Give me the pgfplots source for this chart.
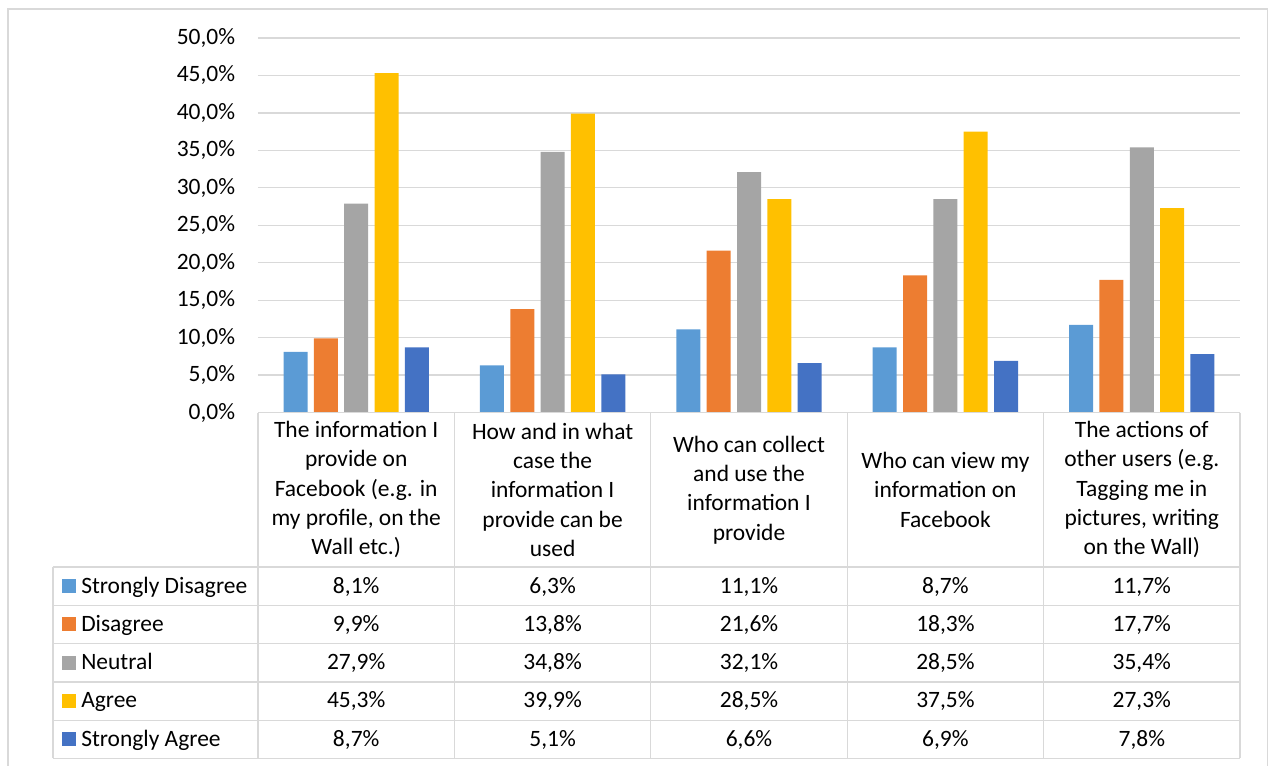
\documentclass[border=0pt]{standalone}
\usepackage{fontspec}
\setmainfont{Carlito}
\usepackage{pgfplots}
\usepackage{pgfplotstable}
\pgfplotsset{compat=1.18}
\pgfkeys{/pgf/number format/assume math mode=true}

\definecolor{sdis}{HTML}{5B9BD5}
\definecolor{dis}{HTML}{ED7D31}
\definecolor{neu}{HTML}{A5A5A5}
\definecolor{agr}{HTML}{FFC000}
\definecolor{sagr}{HTML}{4472C4}
\definecolor{rule}{HTML}{D9D9D9}

% Share of answers per statement (in %)
\pgfplotstableread{
cat sdis dis neu agr sagr
0 8.1 9.9 27.9 45.3 8.7
1 6.3 13.8 34.8 39.9 5.1
2 11.1 21.6 32.1 28.5 6.6
3 8.7 18.3 28.5 37.5 6.9
4 11.7 17.7 35.4 27.3 7.8
}\datatable

\begin{document}
\begin{tikzpicture}[font=\fontsize{17.6}{22}\selectfont]
% frame of the whole chart, in pixel-like units (origin top left)
\begin{scope}[x=0.75pt, y=-0.75pt, shift={(-193.5pt,309.375pt)}]
  \path[use as bounding box] (0,0) rectangle (1269,765);
  \draw[rule, line width=0.9pt] (8,770) -- (8,9) -- (1267.5,9) -- (1267.5,770);
\end{scope}

\begin{axis}[
  at={(0,0)}, anchor=south west,
  scale only axis,
  width=736.5pt, height=280.875pt,
  xmin=-0.5, xmax=4.5,
  ymin=0, ymax=50,
  ytick={0,5,10,15,20,25,30,35,40,45,50},
  xtick=\empty,
  ymajorgrids,
  grid style={rule, line width=0.9pt},
  axis line style={draw=none},
  major tick length=0pt,
  ybar=4.75pt, bar width=18pt,
  yticklabel={\pgfmathprintnumber[fixed,fixed zerofill,precision=1,use comma]{\tick}\%},
  yticklabel style={anchor=east, inner sep=0pt, xshift=-17pt},
  clip=false,
]
\addplot[fill=sdis, draw=none] table[x=cat, y=sdis]{\datatable};
\addplot[fill=dis,  draw=none] table[x=cat, y=dis]{\datatable};
\addplot[fill=neu,  draw=none] table[x=cat, y=neu]{\datatable};
\addplot[fill=agr,  draw=none] table[x=cat, y=agr]{\datatable};
\addplot[fill=sagr, draw=none] table[x=cat, y=sagr]{\datatable};
\end{axis}

% data table below the plot
\begin{scope}[x=0.75pt, y=-0.75pt, shift={(-193.5pt,309.375pt)}]
  \foreach \xx in {258,454.4,650.8,847.2,1043.6,1240}
    \draw[rule, line width=0.9pt] (\xx,412.5) -- (\xx,758.3);
  \draw[rule, line width=0.9pt] (53,567) -- (53,758.3);
  \draw[rule, line width=0.9pt] (258,412.5) -- (1240,412.5);
  \foreach \yy in {567,605.3,643.6,681.9,720.1,758.3}
    \draw[rule, line width=0.9pt] (53,\yy) -- (1240,\yy);

  % category headers
  \node[align=center] at (356.2,489.8) {The information I\\provide on\\Facebook (e.g. in\\my profile, on the\\Wall etc.)};
  \node[align=center] at (552.6,489.8) {How and in what\\case the\\information I\\provide can be\\used};
  \node[align=center] at (749.0,489.8) {Who can collect\\and use the\\information I\\provide};
  \node[align=center] at (945.4,489.8) {Who can view my\\information on\\Facebook};
  \node[align=center] at (1141.8,489.8) {The actions of\\other users (e.g.\\Tagging me in\\pictures, writing\\on the Wall)};

  % series keys
  \foreach \c/\name/\j in {sdis/Strongly Disagree/1, dis/Disagree/2, neu/Neutral/3, agr/Agree/4, sagr/Strongly Agree/5}{
    \fill[\c] (62,{567+38.26*(\j-0.5)-7}) rectangle (76,{567+38.26*(\j-0.5)+7});
    \node[anchor=base west, inner sep=0pt] at (81,{567+38.26*(\j-0.5)+7}) {\name};
  }

  % values
  \foreach \col/\j in {sdis/1, dis/2, neu/3, agr/4, sagr/5}{
    \foreach \i in {0,...,4}{
      \pgfplotstablegetelem{\i}{\col}\of\datatable
      \node[anchor=base, inner sep=0pt] at ({258+196.4*(\i+0.5)},{567+38.26*(\j-0.5)+7})
        {\pgfmathprintnumber[fixed,fixed zerofill,precision=1,use comma]{\pgfplotsretval}\%};
    }
  }
\end{scope}
\end{tikzpicture}
\end{document}
